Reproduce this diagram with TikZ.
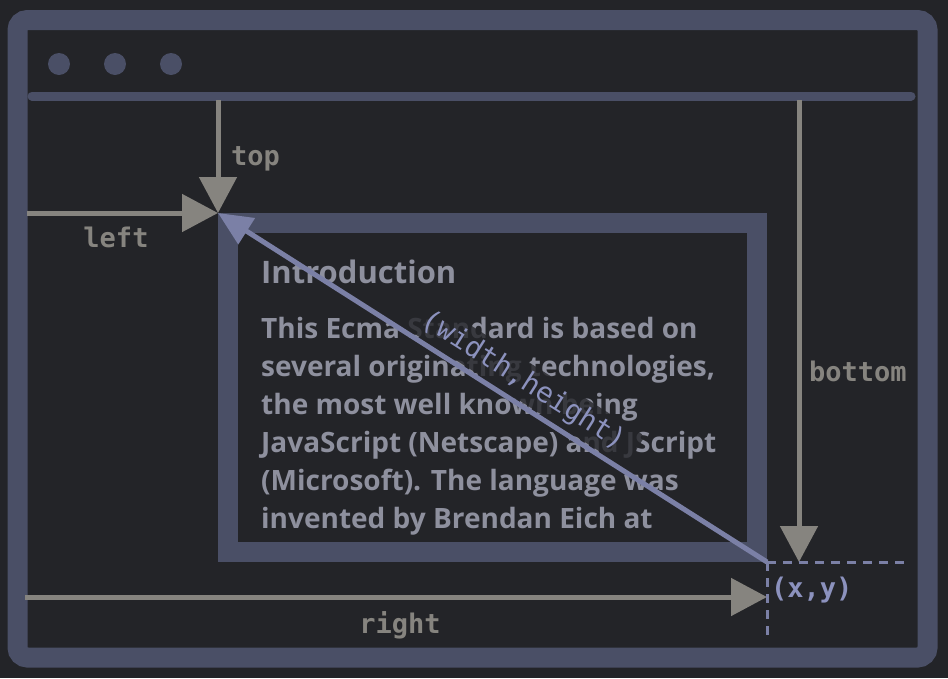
\documentclass[tikz,border=0pt]{standalone}
\usepackage{fontspec}
\setmainfont{Open Sans}
\setmonofont{DejaVu Sans Mono}
\usetikzlibrary{arrows.meta}

\definecolor{bgdark}{HTML}{232428}
\definecolor{winframe}{HTML}{4A4F66}
\definecolor{arrowgray}{HTML}{86847F}
\definecolor{lavender}{HTML}{7B80A6}
\definecolor{labelblue}{HTML}{8C92BE}
\definecolor{textgray}{HTML}{8E909E}

\begin{document}
\begin{tikzpicture}[x=1pt,y=-1pt,
framebox/.style={draw=winframe,line width=20pt},
winbtn/.style={circle,fill=winframe,inner sep=0pt,minimum size=22pt},
measure/.style={draw=arrowgray,line width=5pt,-{Triangle[length=36pt,width=37pt]}},
diag/.style={draw=lavender,line width=5pt,{Triangle[length=34pt,width=30pt]}-},
dashline/.style={draw=lavender,line width=3pt,dash pattern=on 9pt off 7pt},
para/.style={text=textgray,font=\bfseries\fontsize{28}{38}\selectfont,inner sep=0pt,anchor=base west},
dimlabel/.style={text=arrowgray,font=\ttfamily\bfseries\fontsize{27}{30}\selectfont,inner sep=0pt},
sizelabel/.style={text=labelblue,font=\ttfamily\fontsize{28}{30}\selectfont,fill=bgdark,fill opacity=0.8,text opacity=1,rounded corners=4pt,inner xsep=14pt,inner ysep=5pt}]

% window
\fill[bgdark] (0,0) rectangle (948,678);
\draw[framebox,rounded corners=10pt] (17.5,20) rectangle (927.5,657.5);
\node[winbtn] (btn1) at (59,64) {};
\node[winbtn] (btn2) at (115,64) {};
\node[winbtn] (btn3) at (171,64) {};
\draw[winframe,line width=9pt,line cap=round] (32,96) -- (911,96);

% element
\draw[framebox] (228,223) rectangle (757,552);
\node[para,font=\bfseries\fontsize{31}{38}\selectfont] (title) at (261,283) {Introduction};
\foreach \ln [count=\i] in {This Ecma Standard is based on,
  {several originating technologies,},
  the most well known being,
  JavaScript (Netscape) and JScript,
  (Microsoft). The language was,
  invented by Brendan Eich at}
  \node[para] (line\i) at (261,300+38*\i) {\ln};

\coordinate (tl) at (218,213);
\coordinate (br) at (767,562);
\coordinate (topstart) at (218,100);
\coordinate (leftstart) at (27,213);
\coordinate (botstart) at (799,100);
\coordinate (rightstart) at (25,597);
\coordinate (dashright) at (905,562);
\coordinate (dashdown) at (767,642);

% measurements
\draw[measure] (topstart) -- (tl);
\draw[measure] (leftstart) -- (tl);
\draw[measure] (botstart) -- (botstart |- br);
\draw[measure] (rightstart) -- (rightstart -| br);
\draw[diag] (tl) -- (br) node[pos=0.535,sloped,above=1pt,sizelabel] (wh) {(width,height)};
\draw[dashline] (br) -- (dashright);
\draw[dashline] (br) -- (dashdown);

\node[dimlabel,anchor=west] (toplbl) at (231,159) {top};
\node[dimlabel] (leftlbl) at (116,237) {left};
\node[dimlabel,anchor=west] (botlbl) at (809,371) {bottom};
\node[dimlabel] (rightlbl) at (400,625) {right};
\node[dimlabel,text=labelblue,anchor=west] (xylbl) at (771,590) {(x,y)};
\end{tikzpicture}
\end{document}
